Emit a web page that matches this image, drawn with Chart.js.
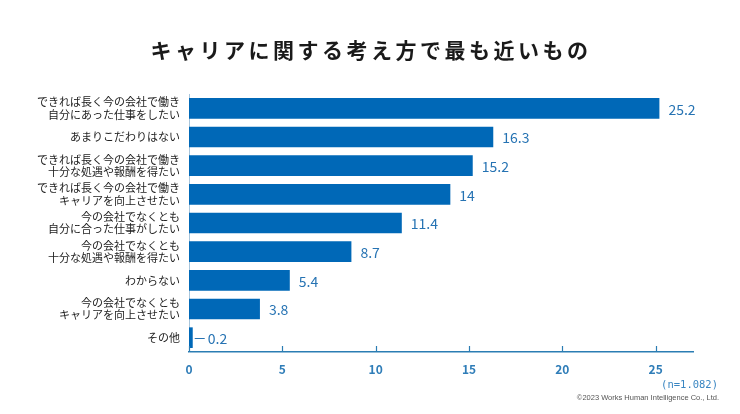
<!DOCTYPE html>
<html>
<head>
<meta charset="utf-8">
<script src="https://cdn.jsdelivr.net/npm/chart.js@4/dist/chart.umd.min.js"></script>
<style>
  html, body { margin: 0; padding: 0; background: #fff; }
  #wrap { width: 740px; height: 414px; }
</style>
</head>
<body>
<div id="wrap"><canvas id="myChart" width="740" height="414"></canvas></div>
<script>
    "use strict";

    var categories = [
        ['できれば長く今の会社で働き', '自分にあった仕事をしたい'],
        ['あまりこだわりはない'],
        ['できれば長く今の会社で働き', '十分な処遇や報酬を得たい'],
        ['できれば長く今の会社で働き', 'キャリアを向上させたい'],
        ['今の会社でなくとも', '自分に合った仕事がしたい'],
        ['今の会社でなくとも', '十分な処遇や報酬を得たい'],
        ['わからない'],
        ['今の会社でなくとも', 'キャリアを向上させたい'],
        ['その他']
    ];
    var values = [25.2, 16.3, 15.2, 14, 11.4, 8.7, 5.4, 3.8, 0.2];
    var tickValues = [0, 5, 10, 15, 20, 25];

    var titleText = 'キャリアに関する考え方で最も近いもの';
    var sampleText = '(n=1.082)';
    var creditText = '©2023 Works Human Intelligence Co., Ltd.';

    var jpFont = '"Noto Sans CJK JP", "Noto Sans", sans-serif';
    var blue = '#0068b7';
    var labelBlue = '#2673b3';

    var extras = {
        id: 'extras',
        afterDraw: function (chart) {
            var ctx = chart.ctx;
            var x = chart.scales.x;
            var area = chart.chartArea;
            ctx.save();

            // title, spaced out like the original
            ctx.fillStyle = '#1a1a1a';
            ctx.font = 'bold 21px ' + jpFont;
            ctx.letterSpacing = '3.5px';
            ctx.textAlign = 'center';
            ctx.textBaseline = 'middle';
            ctx.fillText(titleText, 371, 50);
            ctx.letterSpacing = '0px';

            // upward ticks on the value axis
            ctx.strokeStyle = '#2b7db3';
            ctx.lineWidth = 1.2;
            tickValues.forEach(function (v) {
                var px = Math.round(x.getPixelForValue(v)) + 0.5;
                ctx.beginPath();
                ctx.moveTo(px, area.bottom);
                ctx.lineTo(px, area.bottom - 6);
                ctx.stroke();
            });

            // value labels
            var meta = chart.getDatasetMeta(0);
            ctx.font = '14px ' + jpFont;
            ctx.fillStyle = labelBlue;
            ctx.textAlign = 'left';
            meta.data.forEach(function (bar, i) {
                var v = values[i];
                var tx = bar.x + 9;
                if (v < 1) {
                    ctx.strokeStyle = labelBlue;
                    ctx.lineWidth = 1;
                    ctx.beginPath();
                    ctx.moveTo(bar.x + 2, Math.round(bar.y) + 0.5);
                    ctx.lineTo(bar.x + 12, Math.round(bar.y) + 0.5);
                    ctx.stroke();
                    tx = bar.x + 15;
                }
                ctx.fillText(String(v), tx, bar.y + 1);
            });

            // footer
            ctx.textAlign = 'right';
            ctx.fillStyle = '#3a86c2';
            ctx.font = '10.5px "DejaVu Sans Mono", monospace';
            ctx.fillText(sampleText, 718, 385);
            ctx.fillStyle = '#555';
            ctx.font = '7.5px "Liberation Sans", sans-serif';
            ctx.fillText(creditText, 719, 398);
            ctx.restore();
        }
    };

    var ctx = document.getElementById('myChart').getContext('2d');

    var myChart = new Chart(ctx, {
        type: 'bar',
        data: {
            labels: categories,
            datasets: [{
                label: '',
                data: values,
                backgroundColor: blue,
                borderWidth: 0,
                categoryPercentage: 0.72,
                barPercentage: 1
            }]
        },
        options: {
            indexAxis: 'y',
            responsive: false,
            animation: false,
            layout: {
                padding: { top: 94, right: 47, bottom: 0, left: 0 }
            },
            plugins: {
                legend: { display: false },
                tooltip: { enabled: false },
                title: { display: false }
            },
            scales: {
                x: {
                    min: 0,
                    max: 27,
                    afterBuildTicks: function (scale) {
                        scale.ticks = tickValues.map(function (v) { return { value: v }; });
                    },
                    afterFit: function (scale) {
                        scale.height = 62;
                    },
                    grid: { display: false, drawTicks: false },
                    border: { display: true, color: '#2b7db3', width: 1.5 },
                    ticks: {
                        padding: 10,
                        color: '#2f7db8',
                        font: { family: jpFont, size: 12, weight: 'bold' },
                        maxRotation: 0
                    }
                },
                y: {
                    afterFit: function (scale) {
                        scale.width = 189;
                    },
                    grid: { display: false, drawTicks: false },
                    border: { display: true, color: '#a9c6dc', width: 1 },
                    ticks: {
                        padding: 9,
                        color: '#222',
                        font: { family: jpFont, size: 11, lineHeight: 1.1 }
                    }
                }
            }
        },
        plugins: [extras]
    });
</script>
</body>
</html>
